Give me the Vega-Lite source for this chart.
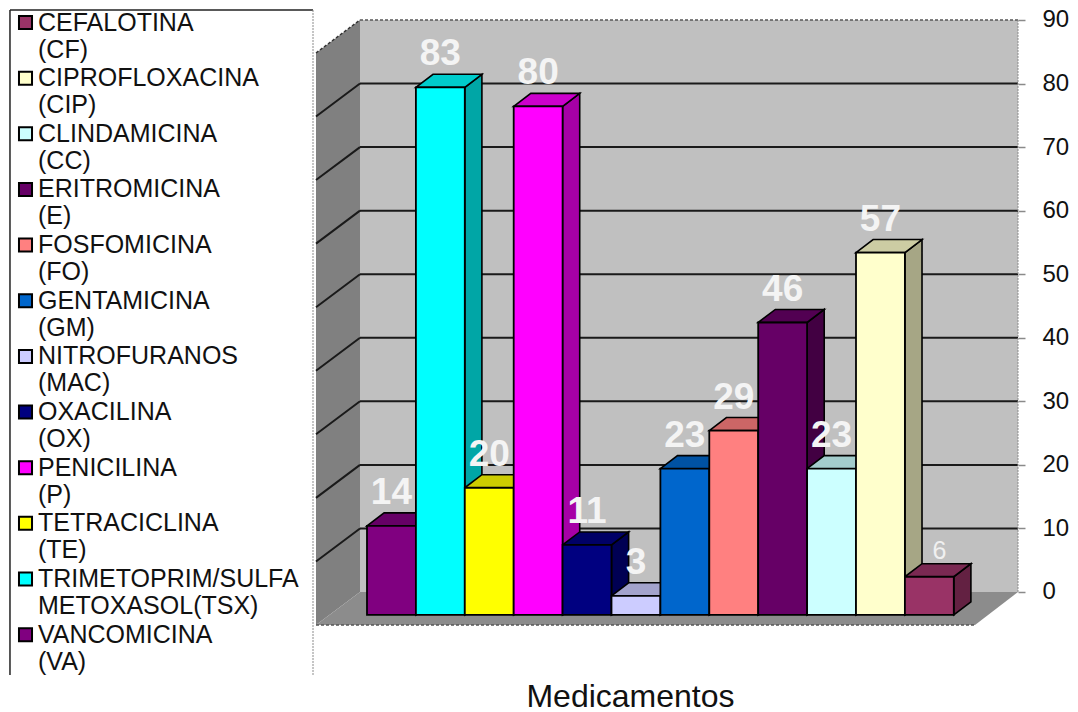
{
  "$schema": "https://vega.github.io/schema/vega-lite/v6.json",
  "width": 1078,
  "height": 712,
  "padding": 0,
  "autosize": "none",
  "background": "white",
  "config": {"view": {"stroke": null}, "font": "Liberation Sans"},
  "datasets": {
    "bars": [
      {"drug": "VANCOMICINA (VA)", "slot": 0, "value": 14},
      {"drug": "TRIMETOPRIM/SULFA METOXASOL(TSX)", "slot": 1, "value": 83},
      {"drug": "TETRACICLINA (TE)", "slot": 2, "value": 20},
      {"drug": "PENICILINA (P)", "slot": 3, "value": 80},
      {"drug": "OXACILINA (OX)", "slot": 4, "value": 11},
      {"drug": "NITROFURANOS (MAC)", "slot": 5, "value": 3},
      {"drug": "GENTAMICINA (GM)", "slot": 6, "value": 23},
      {"drug": "FOSFOMICINA (FO)", "slot": 7, "value": 29},
      {"drug": "ERITROMICINA (E)", "slot": 8, "value": 46},
      {"drug": "CLINDAMICINA (CC)", "slot": 9, "value": 23},
      {"drug": "CIPROFLOXACINA (CIP)", "slot": 10, "value": 57},
      {"drug": "CEFALOTINA (CF)", "slot": 11, "value": 6}
    ],
    "ticks": [
      {"tick": 10}, {"tick": 20}, {"tick": 30}, {"tick": 40},
      {"tick": 50}, {"tick": 60}, {"tick": 70}, {"tick": 80}
    ],
    "one": [{"frame": 1}]
  },
  "layer": [
    {
      "data": {"name": "one"},
      "mark": {"type": "rect", "fill": "#c0c0c0"},
      "encoding": {
        "x": {"datum": -0.143, "type": "quantitative", "title": "Medicamentos",
          "scale": {"domain": [-7.505, 14.54], "nice": false, "zero": false},
          "axis": {"orient": "bottom", "labels": false, "ticks": false, "domain": false, "grid": false,
            "titleFont": "Liberation Sans", "titleFontSize": 32, "titleFontWeight": "normal", "titleColor": "#111",
            "titleX": 630, "titleY": -16, "titleBaseline": "middle", "titleAlign": "center"}},
        "x2": {"datum": 13.313},
        "y": {"datum": 90, "type": "quantitative",
          "scale": {"domain": [-18.88, 93.14], "nice": false, "zero": false},
          "axis": {"title": null, "orient": "right", "offset": -60, "values": [0, 10, 20, 30, 40, 50, 60, 70, 80, 90],
            "domain": false, "grid": false, "tickColor": "#8a8a8a", "tickSize": 7, "tickWidth": 1.5,
            "labelFont": "Liberation Sans", "labelFontSize": 24, "labelColor": "#111", "labelPadding": 17}},
        "y2": {"datum": 0}
      }
    },
    {
      "data": {"values": [
        {"along": -1.043, "low": -5.19, "high": 84.8},
        {"along": -0.143, "low": 0, "high": 90}
      ]},
      "mark": {"type": "area", "fill": "#808080"},
      "encoding": {
        "x": {"field": "along", "type": "quantitative", "title": "Medicamentos"},
        "y": {"field": "high", "type": "quantitative", "title": null},
        "y2": {"field": "low"}
      }
    },
    {
      "data": {"values": [
        {"along": -1.043, "low": -5.19, "high": -5.19},
        {"along": -0.143, "low": -5.19, "high": 0},
        {"along": 12.434, "low": -5.19, "high": 0},
        {"along": 13.313, "low": 0, "high": 0}
      ]},
      "mark": {"type": "area", "fill": "#8c8c8c"},
      "encoding": {
        "x": {"field": "along", "type": "quantitative", "title": "Medicamentos"},
        "y": {"field": "high", "type": "quantitative", "title": null},
        "y2": {"field": "low"}
      }
    },
    {
      "data": {"name": "ticks"},
      "mark": {"type": "rule", "stroke": "#1a1a1a", "strokeWidth": 2},
      "encoding": {
        "x": {"datum": -0.143, "type": "quantitative", "title": "Medicamentos"},
        "x2": {"datum": 13.313},
        "y": {"field": "tick", "type": "quantitative", "title": null}
      }
    },
    {
      "data": {"name": "ticks"},
      "transform": [{"calculate": "datum.tick - 5.19", "as": "near"}],
      "mark": {"type": "rule", "stroke": "#1a1a1a", "strokeWidth": 2},
      "encoding": {
        "x": {"datum": -1.043, "type": "quantitative", "title": "Medicamentos"},
        "x2": {"datum": -0.143},
        "y": {"field": "near", "type": "quantitative", "title": null},
        "y2": {"field": "tick"}
      }
    },
    {
      "data": {"name": "one"},
      "mark": {"type": "rule", "stroke": "#555", "strokeWidth": 1.5, "strokeDash": [3, 2]},
      "encoding": {
        "x": {"datum": -1.043, "type": "quantitative", "title": "Medicamentos"},
        "x2": {"datum": 12.434},
        "y": {"datum": -5.19, "type": "quantitative", "title": null}
      }
    },
    {
      "data": {"name": "one"},
      "mark": {"type": "rule", "stroke": "#555", "strokeWidth": 1.5, "strokeDash": [3, 2]},
      "encoding": {
        "x": {"datum": -0.143, "type": "quantitative", "title": "Medicamentos"},
        "x2": {"datum": 13.313},
        "y": {"datum": 90, "type": "quantitative", "title": null}
      }
    },
    {
      "data": {"name": "one"},
      "mark": {"type": "rule", "stroke": "#333", "strokeWidth": 1.5, "strokeDash": [3, 2]},
      "encoding": {
        "x": {"datum": -1.043, "type": "quantitative", "title": "Medicamentos"},
        "x2": {"datum": -0.143},
        "y": {"datum": 84.8, "type": "quantitative", "title": null},
        "y2": {"datum": 90}
      }
    },
    {
      "data": {"name": "one"},
      "mark": {"type": "rule", "stroke": "#8a8a8a", "strokeWidth": 1, "strokeDash": [2, 1]},
      "encoding": {
        "x": {"datum": 13.313, "type": "quantitative", "title": "Medicamentos"},
        "y": {"datum": 90, "type": "quantitative", "title": null},
        "y2": {"datum": 0}
      }
    },
    {
      "data": {"name": "bars"},
      "transform": [
        {"calculate": "[0, 1]", "as": "t"},
        {"flatten": ["t"]},
        {"calculate": "datum.slot + 1 + datum.t * 0.35", "as": "sx"},
        {"calculate": "datum.t * 2.05 - 3.6", "as": "sbase"},
        {"calculate": "datum.value - 3.6 + datum.t * 2.05", "as": "stop"}
      ],
      "mark": {"type": "area", "stroke": "black", "strokeWidth": 1.6, "strokeJoin": "miter"},
      "encoding": {
        "x": {"field": "sx", "type": "quantitative", "title": "Medicamentos"},
        "y": {"field": "stop", "type": "quantitative", "title": null},
        "y2": {"field": "sbase"},
        "detail": {"field": "drug"},
        "fill": {"field": "drug", "type": "nominal", "legend": null,
          "scale": {"domain": ["CEFALOTINA (CF)", "CIPROFLOXACINA (CIP)", "CLINDAMICINA (CC)", "ERITROMICINA (E)", "FOSFOMICINA (FO)", "GENTAMICINA (GM)", "NITROFURANOS (MAC)", "OXACILINA (OX)", "PENICILINA (P)", "TETRACICLINA (TE)", "TRIMETOPRIM/SULFA METOXASOL(TSX)", "VANCOMICINA (VA)"],
            "range": ["#632142", "#A6A685", "#85A6A6", "#420042", "#A65353", "#004285", "#8585A6", "#000053", "#A600A6", "#A6A600", "#00A6A6", "#530053"]}}
      }
    },
    {
      "data": {"name": "bars"},
      "transform": [
        {"calculate": "[0, 0.35, 1, 1.35]", "as": "r"},
        {"flatten": ["r"]},
        {"calculate": "datum.slot + datum.r", "as": "tx"},
        {"calculate": "datum.value - 3.6 + max(0, datum.r - 1) / 0.35 * 2.05", "as": "tlow"},
        {"calculate": "datum.value - 3.6 + min(datum.r, 0.35) / 0.35 * 2.05", "as": "thigh"}
      ],
      "mark": {"type": "area", "stroke": "black", "strokeWidth": 1.6, "strokeJoin": "miter"},
      "encoding": {
        "x": {"field": "tx", "type": "quantitative", "title": "Medicamentos"},
        "y": {"field": "thigh", "type": "quantitative", "title": null},
        "y2": {"field": "tlow"},
        "detail": {"field": "drug"},
        "fill": {"field": "drug", "type": "nominal", "legend": null,
          "scale": {"domain": ["CEFALOTINA (CF)", "CIPROFLOXACINA (CIP)", "CLINDAMICINA (CC)", "ERITROMICINA (E)", "FOSFOMICINA (FO)", "GENTAMICINA (GM)", "NITROFURANOS (MAC)", "OXACILINA (OX)", "PENICILINA (P)", "TETRACICLINA (TE)", "TRIMETOPRIM/SULFA METOXASOL(TSX)", "VANCOMICINA (VA)"],
            "range": ["#7A2952", "#CCCCA3", "#A3CCCC", "#520052", "#CC6666", "#0052A3", "#A3A3CC", "#000066", "#CC00CC", "#CCCC00", "#00CCCC", "#660066"]}}
      }
    },
    {
      "data": {"name": "bars"},
      "transform": [
        {"calculate": "datum.slot + 1", "as": "right"},
        {"calculate": "datum.value - 3.6", "as": "front"}
      ],
      "mark": {"type": "rect", "stroke": "black", "strokeWidth": 1.8},
      "encoding": {
        "x": {"field": "slot", "type": "quantitative", "title": "Medicamentos"},
        "x2": {"field": "right"},
        "y": {"field": "front", "type": "quantitative", "title": null},
        "y2": {"datum": -3.6},
        "fill": {"field": "drug", "type": "nominal",
          "scale": {"domain": ["CEFALOTINA (CF)", "CIPROFLOXACINA (CIP)", "CLINDAMICINA (CC)", "ERITROMICINA (E)", "FOSFOMICINA (FO)", "GENTAMICINA (GM)", "NITROFURANOS (MAC)", "OXACILINA (OX)", "PENICILINA (P)", "TETRACICLINA (TE)", "TRIMETOPRIM/SULFA METOXASOL(TSX)", "VANCOMICINA (VA)"],
            "range": ["#993366", "#FFFFCC", "#CCFFFF", "#660066", "#FF8080", "#0066CC", "#CCCCFF", "#000080", "#FF00FF", "#FFFF00", "#00FFFF", "#800080"]},
          "legend": {"orient": "none", "legendX": 13, "legendY": 10, "title": null,
            "symbolType": "square", "symbolSize": 170, "symbolStrokeColor": "black", "symbolStrokeWidth": 2,
            "labelFont": "Liberation Sans", "labelFontSize": 25, "labelColor": "#111", "labelOffset": 0, "labelLimit": 400,
            "labelExpr": "split(datum.label, ' ')", "rowPadding": 2.65,
            "encoding": {"labels": {"update": {"lineHeight": {"value": 29}}}}}
        }
      }
    },
    {
      "data": {"name": "bars"},
      "transform": [
        {"filter": "datum.value != 6"},
        {"calculate": "datum.slot + 0.5", "as": "mid"},
        {"calculate": "datum.value - 3.6", "as": "front"}
      ],
      "mark": {"type": "text", "color": "#f4f4f4", "fontWeight": "bold", "fontSize": 37, "dy": -33, "baseline": "middle", "font": "Liberation Sans"},
      "encoding": {
        "x": {"field": "mid", "type": "quantitative", "title": "Medicamentos"},
        "y": {"field": "front", "type": "quantitative", "title": null},
        "text": {"field": "value", "type": "quantitative"}
      }
    },
    {
      "data": {"name": "bars"},
      "transform": [
        {"filter": "datum.value == 6"},
        {"calculate": "datum.slot + 0.5", "as": "mid"},
        {"calculate": "datum.value - 3.6", "as": "front"}
      ],
      "mark": {"type": "text", "color": "#f0f0f0", "fontSize": 25, "dy": -26, "dx": 10, "baseline": "middle", "font": "Liberation Sans"},
      "encoding": {
        "x": {"field": "mid", "type": "quantitative", "title": "Medicamentos"},
        "y": {"field": "front", "type": "quantitative", "title": null},
        "text": {"field": "value", "type": "quantitative"}
      }
    },
    {
      "data": {"name": "one"},
      "mark": {"type": "rule", "stroke": "#222", "strokeWidth": 1.5},
      "encoding": {
        "x": {"datum": -7.301, "type": "quantitative", "title": "Medicamentos"},
        "y": {"datum": 91.57, "type": "quantitative", "title": null},
        "y2": {"datum": -13.06}
      }
    },
    {
      "data": {"name": "one"},
      "mark": {"type": "rule", "stroke": "#222", "strokeWidth": 1.5},
      "encoding": {
        "x": {"datum": -7.301, "type": "quantitative", "title": "Medicamentos"},
        "x2": {"datum": -1.104},
        "y": {"datum": 91.57, "type": "quantitative", "title": null}
      }
    },
    {
      "data": {"name": "one"},
      "mark": {"type": "rule", "stroke": "#8a8a8a", "strokeWidth": 1, "strokeDash": [2, 1]},
      "encoding": {
        "x": {"datum": -1.104, "type": "quantitative", "title": "Medicamentos"},
        "y": {"datum": 91.57, "type": "quantitative", "title": null},
        "y2": {"datum": -13.06}
      }
    }
  ],
  "resolve": {"scale": {"fill": "independent"}}
}
